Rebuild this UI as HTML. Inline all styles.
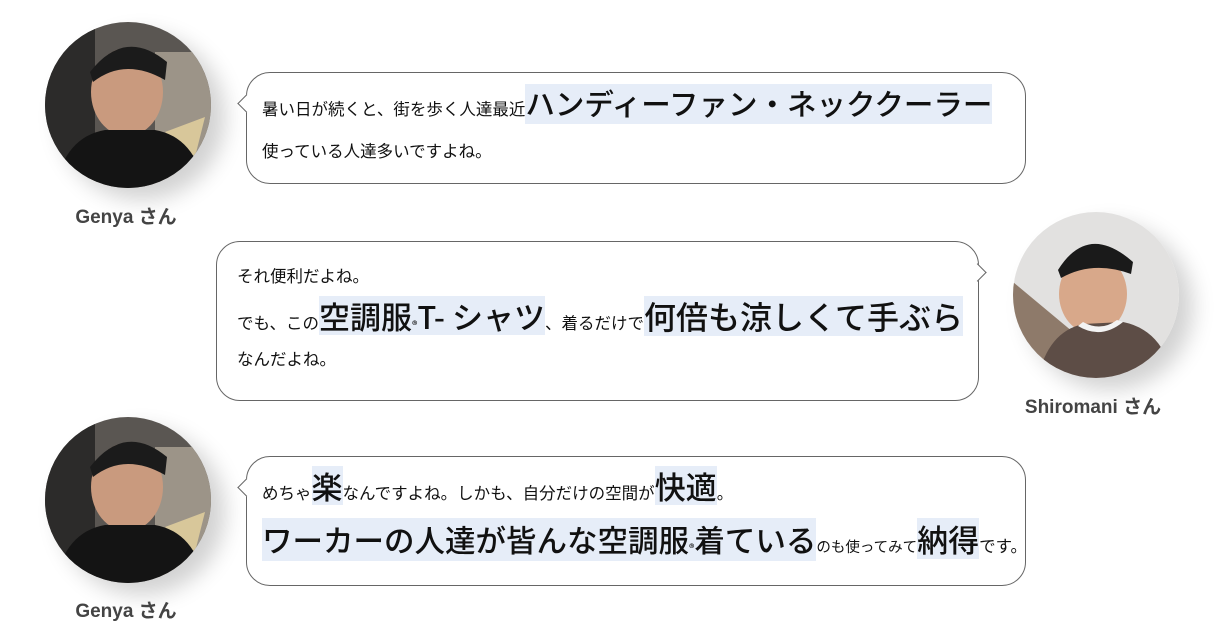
<!DOCTYPE html>
<html><head><meta charset="utf-8"><style>
body{margin:0;width:1230px;height:637px;background:#fff;position:relative;overflow:hidden;font-family:"Liberation Sans","Noto Sans CJK JP",sans-serif;color:#111}
.av{position:absolute;width:166px;height:166px;border-radius:50%;overflow:hidden;box-shadow:14px 12px 22px rgba(0,0,0,0.18)}
.name{position:absolute;font-weight:bold;font-size:19px;color:#444;text-align:center;width:200px}
.bub{position:absolute;border:1px solid #666;border-radius:24px;background:#fff}
.tail{position:absolute;width:12px;height:12px;background:#fff;border-left:1px solid #666;border-bottom:1px solid #666;transform:rotate(45deg)}
.tailr{transform:rotate(-135deg)}
.ln{position:absolute;white-space:nowrap;font-family:"Noto Sans CJK JP",sans-serif;line-height:1}
.s{font-size:16.5px}
.h{background:#e6edf8;display:inline-block;padding:5px 0;font-weight:500}
.r{font-size:11px}
</style></head><body>

<div class="av" style="left:45px;top:22px">
<svg width="166" height="166"><rect width="166" height="166" fill="#5a5652"/><rect x="0" y="0" width="50" height="166" fill="#2c2b2a"/><rect x="110" y="30" width="56" height="100" fill="#9c9488"/><polygon points="120,110 160,95 150,135" fill="#d8c79a"/><ellipse cx="82" cy="70" rx="36" ry="44" fill="#c99a7e"/><path d="M45 50 Q80 5 122 40 L120 58 Q80 35 48 60 Z" fill="#1b1b1b"/><path d="M10 166 Q20 115 60 108 L110 108 Q150 115 160 166 Z" fill="#141414"/></svg></div>
<div class="name" style="left:26px;top:202px">Genya さん</div>

<div class="av" style="left:1013px;top:212px">
<svg width="166" height="166"><rect width="166" height="166" fill="#e2e1e0"/><polygon points="0,70 60,120 40,166 0,166" fill="#8e7a6a"/><ellipse cx="80" cy="82" rx="34" ry="40" fill="#d8a88a"/><path d="M45 58 Q75 10 120 50 L118 62 Q80 48 48 66 Z" fill="#1a1a1a"/><path d="M25 166 Q35 120 70 112 L110 110 Q150 118 160 166 Z" fill="#5d4d46"/><path d="M65 114 Q88 128 110 110 L104 108 Q88 120 70 110Z" fill="#f3f3f3"/></svg></div>
<div class="name" style="left:993px;top:392px">Shiromani さん</div>

<div class="av" style="left:45px;top:417px">
<svg width="166" height="166"><rect width="166" height="166" fill="#5a5652"/><rect x="0" y="0" width="50" height="166" fill="#2c2b2a"/><rect x="110" y="30" width="56" height="100" fill="#9c9488"/><polygon points="120,110 160,95 150,135" fill="#d8c79a"/><ellipse cx="82" cy="70" rx="36" ry="44" fill="#c99a7e"/><path d="M45 50 Q80 5 122 40 L120 58 Q80 35 48 60 Z" fill="#1b1b1b"/><path d="M10 166 Q20 115 60 108 L110 108 Q150 115 160 166 Z" fill="#141414"/></svg></div>
<div class="name" style="left:26px;top:596px">Genya さん</div>

<div class="bub" style="left:246px;top:72px;width:778px;height:110px"></div>
<div class="tail" style="left:240px;top:97px"></div>
<div class="ln" style="left:262px;top:84px"><span class="s">暑い日が続くと、街を歩く人達最近</span><span class="h" style="font-size:29.5px">ハンディーファン・ネッククーラー</span></div>
<div class="ln s" style="left:262px;top:142px">使っている人達多いですよね。</div>

<div class="bub" style="left:216px;top:241px;width:761px;height:158px"></div>
<div class="tail tailr" style="left:971px;top:266px"></div>
<div class="ln s" style="left:237px;top:267px">それ便利だよね。</div>
<div class="ln" style="left:237px;top:296px"><span class="s">でも、この</span><span class="h" style="font-size:31px;padding:4px 0">空調服<span class="r">®</span>T- シャツ</span><span class="s">、着るだけで</span><span class="h" style="font-size:32px;padding:4px 0">何倍も涼しくて手ぶら</span></div>
<div class="ln s" style="left:237px;top:350px">なんだよね。</div>

<div class="bub" style="left:246px;top:456px;width:778px;height:128px"></div>
<div class="tail" style="left:240px;top:481px"></div>
<div class="ln" style="left:262px;top:466px"><span class="s">めちゃ</span><span class="h" style="font-size:31px;padding:4px 0">楽</span><span class="s">なんですよね。しかも、自分だけの空間が</span><span class="h" style="font-size:31px;padding:4px 0">快適</span><span class="s">。</span></div>
<div class="ln" style="left:262px;top:518px"><span class="h" style="font-size:30.5px;padding:6px 0">ワーカーの人達が皆んな空調服<span class="r">®</span>着ている</span><span style="font-size:14.5px">のも使ってみて</span><span class="h" style="font-size:31px;padding:5px 0">納得</span><span class="s">です。</span></div>

</body></html>
